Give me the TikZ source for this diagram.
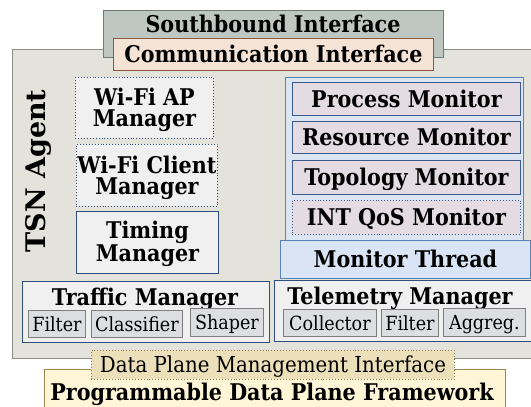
\documentclass[tikz,border=0pt]{standalone}
\usepackage{fontspec}
\setmainfont{DejaVu Serif}[FakeStretch=0.9]
\newfontfamily\tsnfont{DejaVu Serif}
\begin{document}
\begin{tikzpicture}[x=1pt,y=-1pt,
  box/.style={draw, line width=0.9pt, inner sep=0pt, anchor=north west},
  lbl/.style={font=\fontsize{23}{20}\selectfont\bfseries, align=center, inner sep=0pt, anchor=base, yshift=-8.4pt},
  lbltwo/.style={font=\fontsize{23}{21}\selectfont\bfseries, align=center, inner sep=0pt, anchor=base, yshift=-18.9pt},
  lblb/.style={font=\fontsize{23}{20}\selectfont\bfseries, inner sep=0pt, anchor=base},
  sublbl/.style={font=\fontsize{19.5}{22}\selectfont, inner sep=0pt, anchor=base, yshift=-7.1pt},
]
\definecolor{sbfill}{HTML}{BEC7C1}\definecolor{sbdraw}{HTML}{6E7A72}
\definecolor{cifill}{HTML}{F5E3D6}\definecolor{cidraw}{HTML}{8A5A3C}
\definecolor{mainfill}{HTML}{E3E3DC}\definecolor{maindraw}{HTML}{8C8C84}
\definecolor{mgrfill}{HTML}{F0F0F0}\definecolor{mgrdraw}{HTML}{2E4E7E}
\definecolor{monfill}{HTML}{DCE6F2}\definecolor{mondraw}{HTML}{5A80B6}
\definecolor{itemfill}{HTML}{E4DCE2}\definecolor{itemdraw}{HTML}{3A5A8A}
\definecolor{thrfill}{HTML}{D9E4F5}
\definecolor{subfill}{HTML}{DDDEE1}\definecolor{subdraw}{HTML}{7E7E7E}
\definecolor{dpfill}{HTML}{EBE0B9}\definecolor{dpdraw}{HTML}{8C7C52}
\definecolor{pdfill}{HTML}{FFF6D8}\definecolor{pddraw}{HTML}{9C8650}
\useasboundingbox (0,0) rectangle (531,407);
\begin{scope}
\clip (0,0) rectangle (531,407);
% main agent box
\node[box, fill=mainfill, draw=maindraw, minimum width=540pt, minimum height=309pt] (main) at (12,49) {};
% southbound
\node[box, fill=sbfill, draw=sbdraw, minimum width=340pt, minimum height=47pt] (sb) at (103,10) {};
\node[lblb] (sbt) at (273,32.5) {Southbound Interface};
\node[box, fill=cifill, draw=cidraw, minimum width=320pt, minimum height=32pt] (ci) at (113,38) {};
\node[lbl] (cit) at (ci.center) {Communication Interface};
% TSN Agent
\node[font=\fontsize{27}{30}\selectfont\tsnfont\bfseries, rotate=90, inner sep=0pt] (tsn) at (38,171) {TSN Agent};
% left managers
\node[box, fill=mgrfill, draw=mgrdraw, dotted, minimum width=138pt, minimum height=61pt] (ap) at (75,77) {};
\node[lbltwo] (apt) at (ap.center) {Wi-Fi AP\\Manager};
\node[box, fill=mgrfill, draw=mgrdraw, dotted, minimum width=141pt, minimum height=62pt] (cl) at (76,144) {};
\node[lbltwo] (clt) at (cl.center) {Wi-Fi Client\\Manager};
\node[box, fill=mgrfill, draw=mgrdraw, minimum width=142pt, minimum height=62pt] (tm) at (76,211) {};
\node[lbltwo] (tmt) at (tm.center) {Timing\\Manager};
% monitors
\node[box, fill=monfill, draw=mondraw, minimum width=238pt, minimum height=170pt] (mon) at (285,77) {};
\node[box, fill=itemfill, draw=itemdraw, minimum width=228pt, minimum height=33pt] (pm) at (292,82) {};
\node[lbl] (pmt) at (pm.center) {Process Monitor};
\node[box, fill=itemfill, draw=itemdraw, minimum width=228pt, minimum height=32pt] (rm) at (292,121) {};
\node[lbl] (rmt) at (rm.center) {Resource Monitor};
\node[box, fill=itemfill, draw=itemdraw, minimum width=228pt, minimum height=34pt] (tpm) at (292,160) {};
\node[lbl] (tpmt) at (tpm.center) {Topology Monitor};
\node[box, fill=itemfill, draw=itemdraw, dotted, minimum width=228pt, minimum height=34pt] (qm) at (292,200) {};
\node[lbl] (qmt) at (qm.center) {INT QoS Monitor};
\node[box, fill=thrfill, draw=mondraw, minimum width=250pt, minimum height=38pt] (thr) at (280,240) {};
\node[lbl] (thrt) at (thr.center) {Monitor Thread};
% traffic manager
\node[box, fill=mgrfill, draw=mgrdraw, minimum width=247pt, minimum height=61pt] (tr) at (22,281) {};
\node[lblb] (trt) at (145,305) {Traffic Manager};
\node[box, fill=subfill, draw=subdraw, minimum width=57pt, minimum height=27pt] (f1) at (28,310) {};
\node[sublbl] (f1t) at (f1.center) {Filter};
\node[box, fill=subfill, draw=subdraw, minimum width=91pt, minimum height=27pt] (cf) at (91,310) {};
\node[sublbl] (cft) at (cf.center) {Classifier};
\node[box, fill=subfill, draw=subdraw, minimum width=73pt, minimum height=28pt] (sh) at (190,308) {};
\node[sublbl] (sht) at (sh.center) {Shaper};
% telemetry manager
\node[box, fill=mgrfill, draw=mgrdraw, minimum width=270pt, minimum height=61pt] (te) at (274,280) {};
\node[lblb] (tet) at (400,304) {Telemetry Manager};
\node[box, fill=subfill, draw=subdraw, minimum width=93pt, minimum height=27pt] (co) at (283,309) {};
\node[sublbl] (cot) at (co.center) {Collector};
\node[box, fill=subfill, draw=subdraw, minimum width=57pt, minimum height=27pt] (f2) at (381,309) {};
\node[sublbl] (f2t) at (f2.center) {Filter};
\node[box, fill=subfill, draw=subdraw, minimum width=82pt, minimum height=28pt] (ag) at (443,308) {};
\node[sublbl] (agt) at (ag.center) {Aggreg.};
% data plane
\node[box, fill=pdfill, draw=pddraw, minimum width=461pt, minimum height=50pt] (pd) at (44,369) {};
\node[lblb] (pdt) at (272,400) {Programmable Data Plane Framework};
\node[box, fill=dpfill, draw=dpdraw, dotted, minimum width=363pt, minimum height=29pt] (dp) at (91,350) {};
\node[sublbl, font=\fontsize{22}{24}\selectfont, yshift=-0.9pt] (dpt) at (dp.center) {Data Plane Management Interface};
\end{scope}
\end{tikzpicture}
\end{document}
